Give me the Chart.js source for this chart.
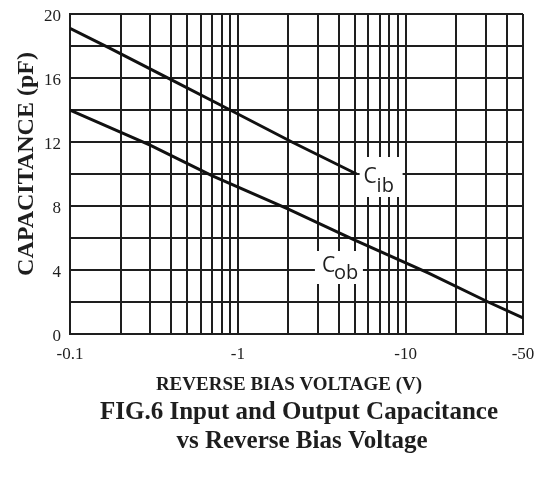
<!DOCTYPE html>
<html><head><meta charset="utf-8">
<script src="https://cdn.jsdelivr.net/npm/chart.js@4"></script>
<style>html,body{margin:0;padding:0;background:#fff}#wrap{width:536px;height:480px}</style>
</head><body><div id="wrap"><canvas id="c" width="536" height="480"></canvas></div>
<script>
// Data (reverse bias voltage magnitude in V, capacitance in pF)
const cibVoltage = [0.1, 0.17, 0.4, 0.9, 2.1, 5.1];
const cibCap     = [19.1, 17.9, 15.9, 14, 12, 10];
const cobVoltage = [0.1, 0.3, 0.7, 2, 4.9, 13.7, 31, 50];
const cobCap     = [14.0, 11.8, 9.9, 7.8, 5.9, 3.8, 2.0, 1.0];

// Axis tick / grid definitions
const xGridValues  = [0.1,0.2,0.3,0.4,0.5,0.6,0.7,0.8,0.9,1,2,3,4,5,6,7,8,9,10,20,30,40,50];
const xLabelValues = [0.1, 1, 10, 50];
const xLabelTexts  = ['-0.1', '-1', '-10', '-50'];
const yLabelValues = [0, 4, 8, 12, 16, 20];

// Curve label anchors (data coordinates)
const cibLabelAt = [5.1, 10];
const cobLabelAt = [3, 4];

const INK = '#1e1e1e';
const serif = "'Liberation Serif', 'Times New Roman', serif";
const sans = "'Open Sans', 'DejaVu Sans', sans-serif";

const toPts = (xs, ys) => xs.map((x, i) => ({x: x, y: ys[i]}));

const labelPlugin = {
  id: 'curveLabels',
  beforeDatasetsDraw(chart) {
    const {ctx, scales} = chart;
    const x = scales.x, y = scales.y;
    ctx.save();
    // Cib label
    const ax = x.getPixelForValue(cibLabelAt[0]), ay = y.getPixelForValue(cibLabelAt[1]);
    ctx.fillStyle = '#fff';
    ctx.fillRect(ax + 3, ay - 17, 43, 40);
    ctx.fillStyle = INK;
    ctx.textBaseline = 'alphabetic';
    ctx.textAlign = 'left';
    ctx.font = '21px ' + sans;
    ctx.fillText('C', ax + 7, ay + 9);
    ctx.font = '20px ' + sans;
    ctx.fillText('ib', ax + 20, ay + 18);
    // Cob label
    const bx = x.getPixelForValue(cobLabelAt[0]), by = y.getPixelForValue(cobLabelAt[1]);
    ctx.fillStyle = '#fff';
    ctx.fillRect(bx - 3, by - 19, 48, 33);
    ctx.fillStyle = INK;
    ctx.font = '21px ' + sans;
    ctx.fillText('C', bx + 4, by + 2);
    ctx.font = '20px ' + sans;
    ctx.fillText('ob', bx + 16, by + 9);
    ctx.restore();
  },
  afterDraw(chart) {
    const {ctx} = chart;
    ctx.save();
    ctx.fillStyle = INK;
    ctx.textAlign = 'center';
    ctx.textBaseline = 'alphabetic';
    ctx.font = 'bold 19px ' + serif;
    ctx.fillText('REVERSE BIAS VOLTAGE (V)', 289, 390);
    ctx.font = 'bold 25px ' + serif;
    ctx.fillText('FIG.6 Input and Output Capacitance', 299, 419);
    ctx.fillText('vs Reverse Bias Voltage', 302, 448);
    ctx.translate(33, 164);
    ctx.rotate(-Math.PI / 2);
    ctx.font = 'bold 24px ' + serif;
    ctx.fillText('CAPACITANCE (pF)', 0, 0);
    ctx.restore();
  }
};

new Chart(document.getElementById('c'), {
  type: 'line',
  data: {
    datasets: [
      {label: 'Cib', data: toPts(cibVoltage, cibCap), borderColor: '#111', borderWidth: 3, pointRadius: 0, tension: 0, fill: false},
      {label: 'Cob', data: toPts(cobVoltage, cobCap), borderColor: '#111', borderWidth: 3, pointRadius: 0, tension: 0, fill: false}
    ]
  },
  options: {
    responsive: false,
    animation: false,
    devicePixelRatio: 1,
    layout: {padding: {top: 14, right: 13, left: 0, bottom: 0}},
    plugins: {legend: {display: false}, tooltip: {enabled: false}, title: {display: false}},
    scales: {
      x: {
        type: 'logarithmic',
        min: 0.1, max: 50,
        afterBuildTicks: s => { s.ticks = xGridValues.map(v => ({value: v})); },
        afterFit: s => { s.height = 146; s.paddingLeft = 0; s.paddingRight = 0; },
        ticks: {
          autoSkip: false, maxRotation: 0, minRotation: 0, padding: 10, color: INK,
          font: {family: serif, size: 17},
          callback: (v) => {
            const i = xLabelValues.findIndex(t => Math.abs(t - v) < 1e-9);
            return i >= 0 ? xLabelTexts[i] : '';
          }
        },
        grid: {color: INK, lineWidth: 2, drawTicks: false},
        border: {display: true, color: INK, width: 2}
      },
      y: {
        type: 'linear',
        min: 0, max: 20,
        afterFit: s => { s.width = 70; s.paddingTop = 0; s.paddingBottom = 0; },
        ticks: {
          stepSize: 2, padding: 9, labelOffset: 3, color: INK,
          font: {family: serif, size: 17},
          callback: (v) => yLabelValues.includes(v) ? String(v) : ''
        },
        grid: {color: INK, lineWidth: 2, drawTicks: false},
        border: {display: true, color: INK, width: 2}
      }
    }
  },
  plugins: [labelPlugin]
});
</script>
</body></html>
